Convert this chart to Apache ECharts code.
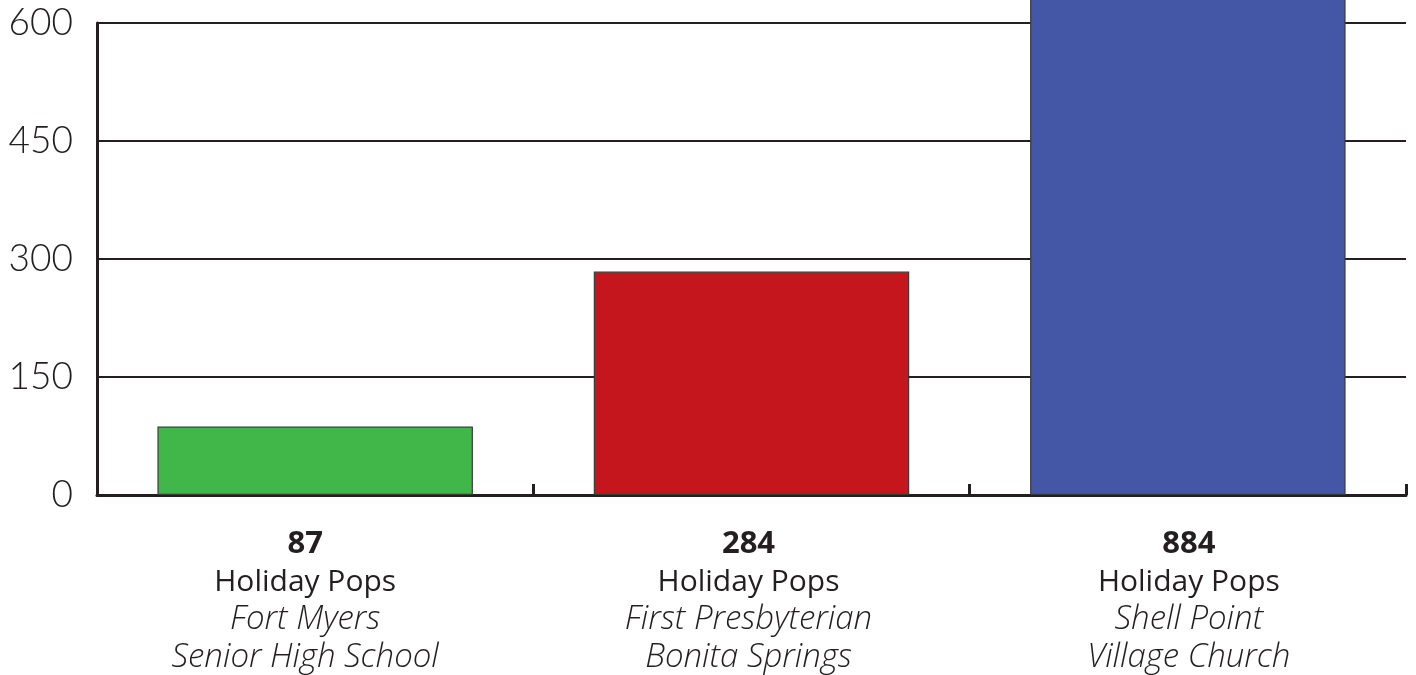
<!DOCTYPE html>
<html><head><meta charset="utf-8">
<script src="https://cdn.jsdelivr.net/npm/echarts@6/dist/echarts.min.js"></script>
<style>html,body{margin:0;padding:0;background:#fff}#c{width:1416px;height:675px}</style>
</head><body><div id="c"></div>
<script>
const values = [87, 284, 884];
const titles = ['Holiday Pops', 'Holiday Pops', 'Holiday Pops'];
const venueLine1 = ['Fort Myers', 'First Presbyterian', 'Shell Point'];
const venueLine2 = ['Senior High School', 'Bonita Springs', 'Village Church'];
const barColors = ['#41b649', '#c4161c', '#4457a7'];
const yTicks = [0, 150, 300, 450, 600];

const categories = values.map((v, i) => String(i));
const chart = echarts.init(document.getElementById('c'));
const ink = '#231f20';
const labFont = 'Open Sans';
const shifts = [-10, -3, 1];
const rich = {};
shifts.forEach((s, k) => {
  const pad = s < 0 ? [0, -2 * s, 0, 0] : [0, 0, 0, 2 * s];
  rich['b' + k] = { fontFamily: labFont, fontWeight: 'bold', fontSize: 31, color: ink, lineHeight: 38, align: 'center', padding: pad };
  rich['r' + k] = { fontFamily: labFont, fontSize: 30, color: ink, lineHeight: 38, align: 'center', padding: pad };
  rich['i' + k] = { fontFamily: labFont, fontStyle: 'italic', fontWeight: 300, fontSize: 33, color: ink, lineHeight: 38, align: 'center', padding: pad };
});
chart.setOption({
  animation: false,
  grid: { left: 97, right: 10, top: 23, bottom: 180, containLabel: false },
  xAxis: {
    type: 'category',
    data: categories,
    axisLine: { show: true, lineStyle: { color: ink, width: 3 } },
    axisTick: { show: true, inside: true, length: 11, alignWithLabel: false, lineStyle: { color: ink, width: 3 } },
    axisLabel: {
      margin: 30,
      interval: 0,
      formatter: (val, idx) => '{b' + idx + '|' + values[idx] + '}\n{r' + idx + '|' + titles[idx] + '}\n{i' + idx + '|' + venueLine1[idx] + '}\n{i' + idx + '|' + venueLine2[idx] + '}',
      rich: rich
    }
  },
  yAxis: {
    type: 'value',
    min: yTicks[0],
    max: yTicks[yTicks.length - 1],
    interval: yTicks[1] - yTicks[0],
    axisLine: { show: true, lineStyle: { color: ink, width: 3 } },
    axisTick: { show: false },
    splitLine: { show: true, lineStyle: { color: ink, width: 2 } },
    axisLabel: { fontFamily: 'Lato', fontWeight: 300, fontSize: 37, color: ink, margin: 24 }
  },
  series: [{
    type: 'bar',
    data: values.map((v, i) => ({ value: v, itemStyle: { color: barColors[i] } })),
    barWidth: '72.3%',
    clip: false,
    itemStyle: { borderColor: '#3a3a3a', borderWidth: 1.2 },
    z: 3
  }]
});
</script></body></html>
